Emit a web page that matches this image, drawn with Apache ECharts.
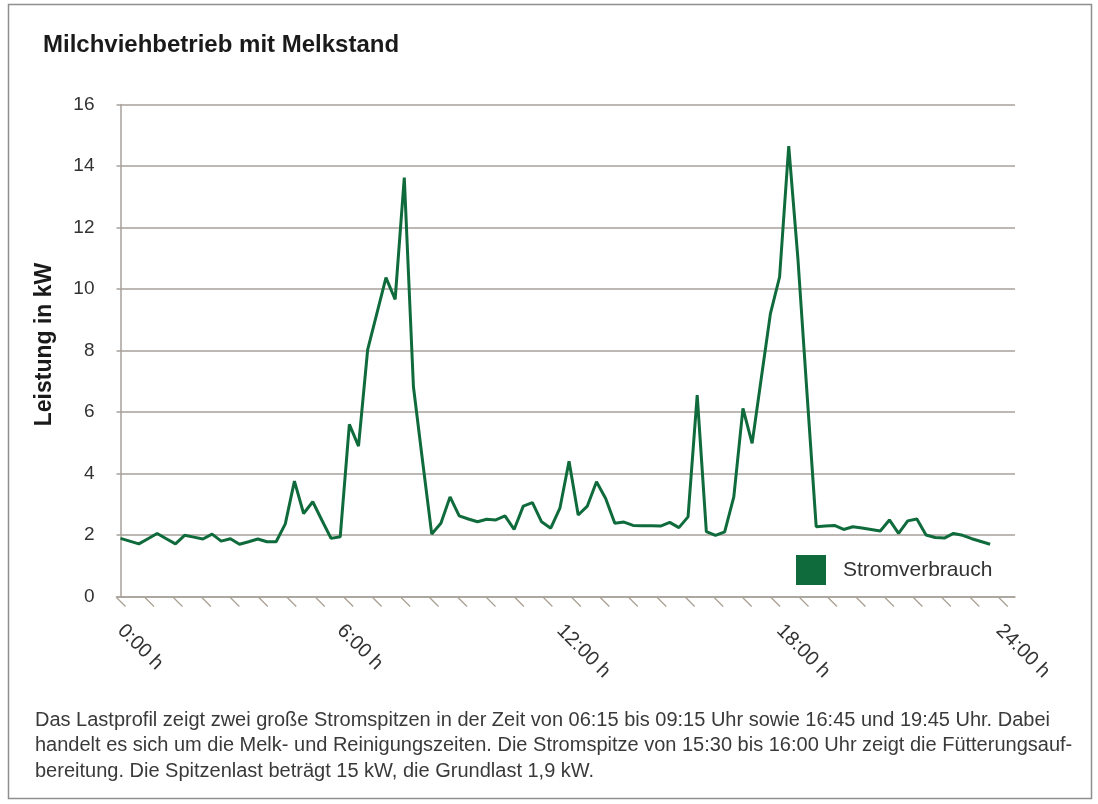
<!DOCTYPE html>
<html>
<head>
<meta charset="utf-8">
<script src="https://cdn.jsdelivr.net/npm/echarts@6/dist/echarts.min.js"></script>
<style>
html,body{margin:0;padding:0;background:#fff;}
#chart{width:1098px;height:804px;}
</style>
</head>
<body>
<div id="chart"></div>
<script>
// Lastprofil, 15-Minuten-Werte
const times = [
  '0:00','0:15','0:30','0:45','1:00','1:15','1:30','1:45',
  '2:00','2:15','2:30','2:45','3:00','3:15','3:30','3:45',
  '4:00','4:15','4:30','4:45','5:00','5:15','5:30','5:45',
  '6:00','6:15','6:30','6:45','7:00','7:15','7:30','7:45',
  '8:00','8:15','8:30','8:45','9:00','9:15','9:30','9:45',
  '10:00','10:15','10:30','10:45','11:00','11:15','11:30','11:45',
  '12:00','12:15','12:30','12:45','13:00','13:15','13:30','13:45',
  '14:00','14:15','14:30','14:45','15:00','15:15','15:30','15:45',
  '16:00','16:15','16:30','16:45','17:00','17:15','17:30','17:45',
  '18:00','18:15','18:30','18:45','19:00','19:15','19:30','19:45',
  '20:00','20:15','20:30','20:45','21:00','21:15','21:30','21:45',
  '22:00','22:15','22:30','22:45','23:00','23:15','23:30','23:45'
]
const leistung = [
  1.89,1.80,1.71,1.88,2.05,1.88,1.71,1.99,
  1.93,1.87,2.03,1.80,1.88,1.70,1.78,1.87,
  1.78,1.78,2.36,3.75,2.70,3.08,2.48,1.89,
  1.94,5.60,4.89,8.03,9.20,10.37,9.66,13.62,
  6.82,4.40,2.03,2.38,3.24,2.62,2.52,2.43,
  2.51,2.49,2.62,2.18,2.94,3.05,2.43,2.22,
  2.87,4.40,2.65,2.94,3.73,3.19,2.38,2.42,
  2.31,2.30,2.30,2.29,2.41,2.24,2.59,6.55,
  2.11,1.99,2.10,3.24,6.12,4.98,7.10,9.20,
  10.39,14.65,11.00,6.60,2.27,2.29,2.31,2.18,
  2.27,2.23,2.18,2.13,2.49,2.05,2.46,2.52,
  2.00,1.92,1.90,2.05,1.99,1.88,1.79,1.70
]
const xLabelHours = [0,6,12,18,24]
const titleText = 'Milchviehbetrieb mit Melkstand'
const yName = 'Leistung in kW'
const seriesName = 'Stromverbrauch'
const noteLines = [
  'Das Lastprofil zeigt zwei große Stromspitzen in der Zeit von 06:15 bis 09:15 Uhr sowie 16:45 und 19:45 Uhr. Dabei',
  'handelt es sich um die Melk- und Reinigungszeiten. Die Stromspitze von 15:30 bis 16:00 Uhr zeigt die Fütterungsauf-',
  'bereitung. Die Spitzenlast beträgt 15 kW, die Grundlast 1,9 kW.'
]

const green = '#0f6b3b'
const gridGray = '#a7a19a'
const font = '"Liberation Sans", Arial, Helvetica, sans-serif'

function toHours(t){
  let p = t.split(':')
  return Number(p[0]) + Number(p[1]) / 60
}
let lineData = times.map((t, i) => [toHours(t), leistung[i]])

// schräge Striche unter der x-Achse (nur Deko)
let hatch = []
for(let k = 0; k < 32; k++){ hatch.push([-0.11 + k * 0.7773, 0]) }

let myChart = echarts.init(document.getElementById('chart'))
let option = {
  animation: false,
  textStyle: { fontFamily: font },
  title: {
    text: titleText,
    left: 43, top: 33, padding: 0,
    textStyle: { fontSize: 24, fontWeight: 'bold', color: '#1a1a1a', fontFamily: font }
  },
  legend: {
    data: [seriesName],
    left: 796, top: 555,
    padding: 0,
    icon: 'rect',
    itemWidth: 30, itemHeight: 30,
    textStyle: { fontSize: 21, color: '#333', padding: [0, 0, 0, 12], fontFamily: font }
  },
  grid: { left: 116.5, right: 83, top: 104.5, bottom: 207.5, containLabel: false },
  xAxis: {
    type: 'value',
    min: -0.11, max: 24.43,
    axisLine: { show: true, lineStyle: { color: gridGray, width: 1.5 } },
    axisTick: { show: false },
    splitLine: { show: false },
    axisLabel: {
      customValues: xLabelHours,
      rotate: -45,
      margin: 31,
      fontSize: 20,
      color: '#333',
      fontFamily: font,
      formatter: v => v + ':00 h'
    }
  },
  yAxis: {
    type: 'value',
    min: 0, max: 16, interval: 2,
    name: yName,
    nameLocation: 'middle',
    nameGap: 60,
    nameTextStyle: { fontSize: 23, fontWeight: 'bold', color: '#1a1a1a', fontFamily: font, padding: [0, 0, 0, 12] },
    axisLine: { show: true, lineStyle: { color: gridGray, width: 1.5 } },
    axisTick: { show: false },
    axisLabel: { fontSize: 19, color: '#333', margin: 22, fontFamily: font },
    splitLine: { lineStyle: { color: gridGray, width: 1.5 } }
  },
  graphic: [
    {
      type: 'rect', left: 6, top: 2, silent: true,
      shape: { width: 1083, height: 794 },
      style: { fill: 'none', stroke: '#8f8f8f', lineWidth: 1.5 }
    }
  ].concat(noteLines.map((t, i) => ({
    type: 'text', left: 35, top: 710 + i * 25.5, silent: true,
    style: { text: t, fontSize: 20, fill: '#3a3a3a', fontFamily: font }
  }))),
  series: [
    {
      name: seriesName,
      type: 'line',
      data: lineData,
      showSymbol: false,
      lineStyle: { color: green, width: 3 },
      itemStyle: { color: green },
      z: 5
    },
    {
      type: 'custom',
      data: hatch,
      silent: true,
      clip: false,
      renderItem: function(params, api){
        let p = api.coord([api.value(0), 0])
        return {
          type: 'line',
          shape: { x1: p[0], y1: p[1] + 1, x2: p[0] + 9, y2: p[1] + 10 },
          style: { stroke: '#a89e90', lineWidth: 1.2 }
        }
      }
    }
  ]
}
myChart.setOption(option)
window.addEventListener('resize', () => { myChart.resize() })
</script>
</body>
</html>
